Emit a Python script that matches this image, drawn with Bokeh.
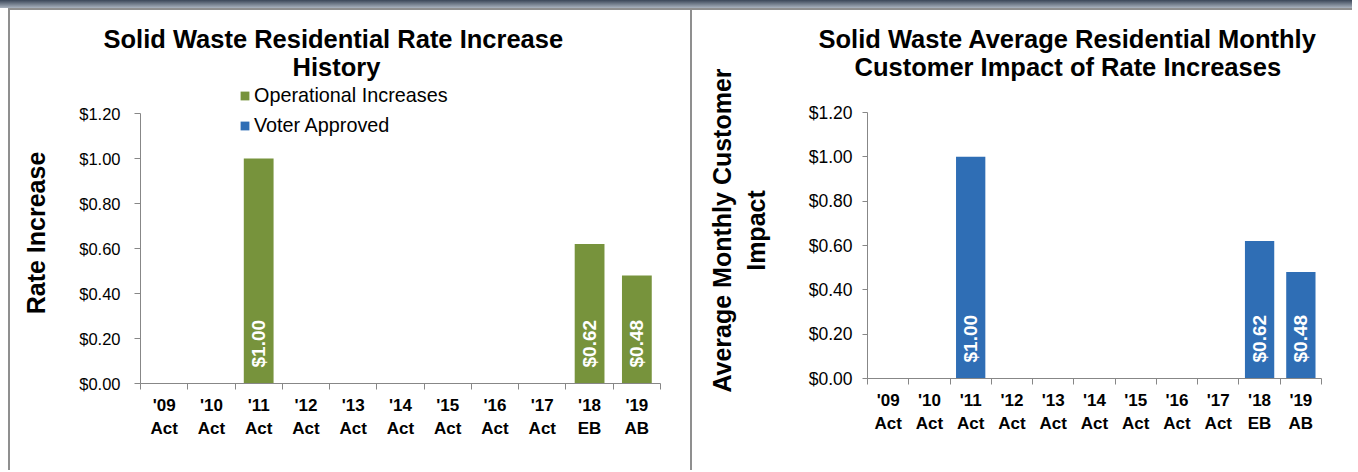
import math
from bokeh.plotting import figure
from bokeh.models import (Range1d, FixedTicker, LinearAxis, NumeralTickFormatter, Legend,
                          LegendItem, ColumnDataSource, Title, Div)
from bokeh.layouts import row, column
from bokeh.embed import file_html
from bokeh.resources import INLINE
from bokeh.core.properties import value

# ---------------- data ----------------
years = ["'09", "'10", "'11", "'12", "'13", "'14", "'15", "'16", "'17", "'18", "'19"]
suffixes = ["Act", "Act", "Act", "Act", "Act", "Act", "Act", "Act", "Act", "EB", "AB"]
operational = [0, 0, 1.00, 0, 0, 0, 0, 0, 0, 0.62, 0.48]
voter_approved = [0, 0, 0, 0, 0, 0, 0, 0, 0, 0, 0]
customer_impact = [0, 0, 1.00, 0, 0, 0, 0, 0, 0, 0.62, 0.48]
y_ticks = [0.0, 0.2, 0.4, 0.6, 0.8, 1.0, 1.2]
series_names = ["Operational Increases", "Voter Approved"]
title_left = ["Solid Waste Residential Rate Increase", "History"]
title_right = ["Solid Waste Average Residential Monthly", "Customer Impact of Rate Increases"]
ylabel_left = "Rate Increase"
ylabel_right = "Average Monthly Customer\nImpact"

FONT = "Liberation Sans"
GREY = "#878787"
GREEN = "#77933C"
BLUE = "#2F6EB5"
FRAME_GREY = "#8f8f8f"

n = len(years)
centers = [i + 0.5 for i in range(n)]          # category centres on a 0..n axis
bounds = list(range(n + 1))                     # category boundaries
cat_labels = {c: f"{y}\n{s}" for c, y, s in zip(centers, years, suffixes)}


def panel(width, height, left, right, top, bottom, axis_px, tick_font, tick_standoff,
          tick_out, ylab, ylab_standoff, titles, title_offsets, xlab_standoff):
    # y range extends above $1.20 so that the legend can sit inside the frame;
    # the axis line itself is bounded to 0..1.2
    frame_h = height - top - bottom
    y_top = y_ticks[-1] * frame_h / axis_px
    p = figure(width=width, height=height, x_range=Range1d(0, n),
               y_range=Range1d(0, y_top), output_backend="svg", toolbar_location=None,
               x_axis_location=None, y_axis_location=None,
               min_border_left=left, min_border_right=right,
               min_border_top=top, min_border_bottom=bottom)
    p.outline_line_color = None
    p.xgrid.visible = False
    p.ygrid.visible = False
    p.background_fill_color = "white"
    p.border_fill_color = "white"

    yaxis = LinearAxis(ticker=FixedTicker(ticks=y_ticks, minor_ticks=[]), bounds=(0, y_ticks[-1]),
                       formatter=NumeralTickFormatter(format="$0.00"),
                       axis_line_color=GREY, major_tick_line_color=GREY,
                       major_tick_out=tick_out, major_tick_in=0, minor_tick_out=0, minor_tick_in=0,
                       major_label_standoff=tick_standoff,
                       major_label_text_font=FONT, major_label_text_font_size=tick_font,
                       major_label_text_color="black",
                       axis_label=ylab, axis_label_standoff=ylab_standoff,
                       axis_label_text_font=FONT, axis_label_text_font_size="25px",
                       axis_label_text_font_style="bold", axis_label_text_color="black",
                       axis_label_text_line_height=1.2)
    p.add_layout(yaxis, "left")

    tick_axis = LinearAxis(ticker=FixedTicker(ticks=bounds, minor_ticks=[]),
                           major_label_overrides={b: "" for b in bounds},
                           major_label_text_font_size="0px", major_label_standoff=0,
                           axis_line_color=GREY, major_tick_line_color=GREY,
                           major_tick_out=6, major_tick_in=0, minor_tick_out=0, minor_tick_in=0)
    p.add_layout(tick_axis, "below")

    cat_axis = LinearAxis(ticker=FixedTicker(ticks=centers, minor_ticks=[]),
                          major_label_overrides=cat_labels,
                          axis_line_color=None, major_tick_out=0, major_tick_in=0,
                          major_tick_line_color=None, minor_tick_out=0, minor_tick_in=0,
                          major_label_standoff=xlab_standoff,
                          major_label_text_font=FONT, major_label_text_font_size="17px",
                          major_label_text_font_style="bold",
                          major_label_text_line_height=1.25,
                          major_label_text_color="black")
    p.add_layout(cat_axis, "below")

    # titles: second line nearest the frame, first line above it
    p.add_layout(Title(text=titles[1], align="left", offset=title_offsets[1],
                       vertical_align="top", standoff=0, text_font=FONT,
                       text_font_size="25.5px", text_font_style="bold",
                       text_color="black"), "above")
    p.add_layout(Title(text=titles[0], align="left", offset=title_offsets[0],
                       vertical_align="bottom", standoff=0, text_font=FONT,
                       text_font_size="25.5px", text_font_style="bold",
                       text_color="black"), "above")
    return p


def bar_labels(p, vals, size, offset):
    idx = [i for i, v in enumerate(vals) if v > 0]
    src = ColumnDataSource(dict(x=[centers[i] for i in idx], y=[0] * len(idx),
                                t=[f"${vals[i]:.2f}" for i in idx]))
    p.text(x="x", y="y", text="t", source=src, angle=math.pi / 2, text_align="left",
           text_baseline="middle", y_offset=-offset, text_color="white",
           text_font=value(FONT), text_font_size=size, text_font_style="bold")


# ---------------- left panel ----------------
p1 = panel(680, 460, 130, 30, 72, 87, 270, "16.5px", 14, 6, ylabel_left, 26,
           title_left, [-37, 152], 6)
src1 = ColumnDataSource(dict(x=centers, op=operational, va=voter_approved))
rs = p1.vbar_stack(["op", "va"], x="x", width=0.63, source=src1,
                   fill_color=[GREEN, BLUE], line_color=None)
legend = Legend(items=[LegendItem(label=series_names[0], renderers=[rs[0]]),
                       LegendItem(label=series_names[1], renderers=[rs[1]])],
                location=(99, 246), glyph_width=11, glyph_height=11, label_height=20,
                label_standoff=4, spacing=7, padding=0, margin=0,
                label_text_font=FONT, label_text_font_size="19.8px",
                label_text_color="black",
                border_line_color=None, background_fill_alpha=0)
p1.add_layout(legend)
bar_labels(p1, operational, "19px", 16)

# ---------------- right panel ----------------
p2 = panel(660, 460, 175, 31, 72, 92, 266, "17.5px", 10, 5, ylabel_right, 36,
           title_right, [-49, -13], 6)
src2 = ColumnDataSource(dict(x=centers, ci=customer_impact))
p2.vbar(x="x", top="ci", width=0.71, source=src2, fill_color=BLUE, line_color=None)
bar_labels(p2, customer_impact, "19px", 16)


def strip(w, h, bg):
    return Div(text="", width=w, height=h, margin=0, styles={"background": bg})


top_bar = strip(1352, 8, "linear-gradient(to bottom, #3a4658, #aab3bf)")
body = row(
    strip(8, 462, "white"),
    strip(2, 462, FRAME_GREY),
    column(strip(680, 2, FRAME_GREY), p1, spacing=0),
    strip(2, 462, FRAME_GREY),
    column(strip(660, 2, FRAME_GREY), p2, spacing=0),
    spacing=0,
)
layout = column(top_bar, body, spacing=0)
open("out.html", "w").write(file_html(layout, INLINE))
